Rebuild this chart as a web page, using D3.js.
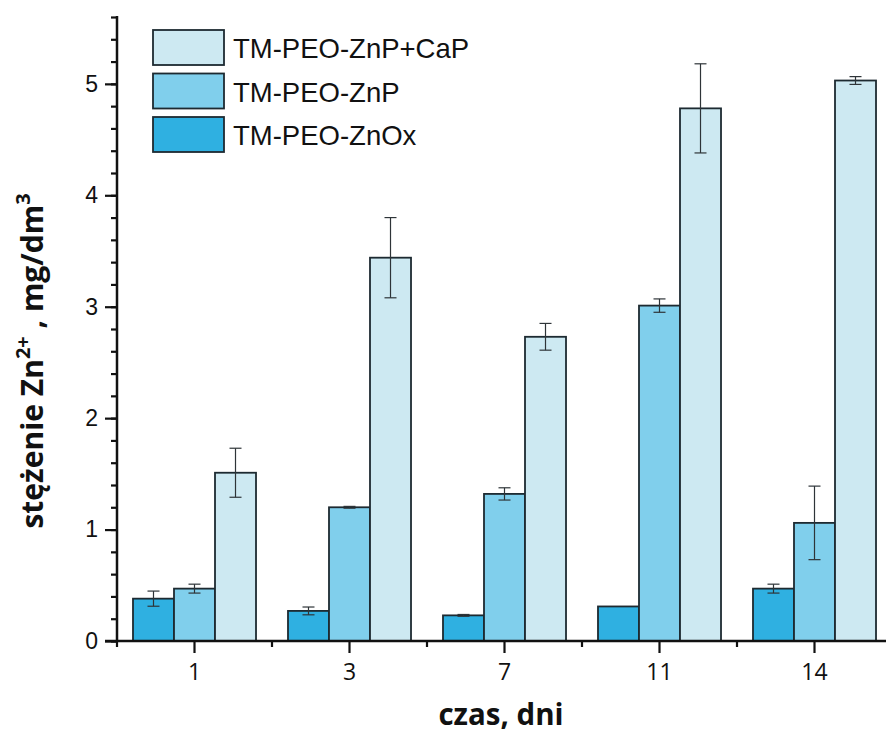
<!DOCTYPE html>
<html><head><meta charset="utf-8">
<script src="https://cdn.jsdelivr.net/npm/d3@7"></script>
<style>html,body{margin:0;padding:0;background:#fff;}svg{display:block;}</style>
</head><body><svg id="chart" width="886" height="744"></svg>
<script>
const days = ["1", "3", "7", "11", "14"];
const seriesNames = ["TM-PEO-ZnOx", "TM-PEO-ZnP", "TM-PEO-ZnP+CaP"];
const znOx = [0.38, 0.27, 0.23, 0.31, 0.47];
const znOxErr = [0.068, 0.035, 0.008, 0, 0.04];
const znP = [0.47, 1.20, 1.32, 3.01, 1.06];
const znPErr = [0.04, 0.008, 0.055, 0.06, 0.33];
const znPCaP = [1.51, 3.44, 2.73, 4.78, 5.03];
const znPCaPErr = [0.22, 0.36, 0.12, 0.40, 0.035];
const colors = ["#2fb0e1", "#80cfec", "#cde9f2"];
const yMajorTicks = [0, 1, 2, 3, 4, 5];

const values = [znOx, znP, znPCaP];
const errs = [znOxErr, znPErr, znPCaPErr];
const data = [];
days.forEach((d, i) => seriesNames.forEach((s, j) => data.push({day: d, series: s, v: values[j][i], e: errs[j][i], c: colors[j]})));

const svg = d3.select("#chart");
const x = d3.scaleBand().domain(days).range([117, 892]).paddingInner(0).paddingOuter(0);
const xs = d3.scaleBand().domain(seriesNames).range([0, x.bandwidth()]).paddingInner(0).paddingOuter(0.39);
const y = d3.scaleLinear().domain([0, 5.6]).range([641, 17]);

const stroke = "#1d2a31";
// bars
svg.append("g").selectAll("rect").data(data).join("rect")
  .attr("x", d => x(d.day) + xs(d.series))
  .attr("y", d => y(d.v))
  .attr("width", xs.bandwidth())
  .attr("height", d => y(0) - y(d.v))
  .attr("fill", d => d.c)
  .attr("stroke", stroke).attr("stroke-width", 1.8);

// error bars
const eg = svg.append("g").attr("stroke", "#2e3438").attr("stroke-width", 1.2).attr("fill", "none");
data.filter(d => d.e > 0).forEach(d => {
  const cx = x(d.day) + xs(d.series) + xs.bandwidth() / 2;
  const t = y(d.v + d.e), b = y(d.v - d.e);
  eg.append("line").attr("x1", cx).attr("x2", cx).attr("y1", t).attr("y2", b);
  eg.append("line").attr("x1", cx - 6).attr("x2", cx + 6).attr("y1", t).attr("y2", t);
  eg.append("line").attr("x1", cx - 6).attr("x2", cx + 6).attr("y1", b).attr("y2", b);
});

// y axis
const yMinor = d3.range(0, 5.61, 0.2).map(v => +v.toFixed(1));
const yAxisG = svg.append("g").attr("transform", "translate(117,0)");
yAxisG.call(d3.axisLeft(y).tickValues(yMinor).tickSize(6).tickFormat(""))
  .call(g => g.select(".domain").remove());
yAxisG.append("g").call(d3.axisLeft(y).tickValues(yMajorTicks).tickSize(12).tickPadding(7).tickFormat(d3.format("d")))
  .call(g => g.select(".domain").remove())
  .call(g => g.selectAll("text").attr("font-family", "'Liberation Sans', Arial, sans-serif").attr("font-size", 23).attr("fill", "#111"));
yAxisG.selectAll("line").attr("stroke", "#111").attr("stroke-width", 2.2);
yAxisG.append("line").attr("x1", 0).attr("x2", 0).attr("y1", y(5.6) - 1).attr("y2", y(0) + 1).attr("stroke", "#111").attr("stroke-width", 2.5);

// x axis
const xAxisG = svg.append("g").attr("transform", "translate(0,641)");
xAxisG.append("g").call(d3.axisBottom(x).tickSize(12).tickPadding(11))
  .call(g => g.select(".domain").remove())
  .call(g => g.selectAll("text").attr("font-family", "'Open Sans', Lato, sans-serif").attr("font-size", 23).attr("fill", "#111"));
const bounds = days.map(d => x(d));
xAxisG.append("g").selectAll("line").data(bounds).join("line")
  .attr("x1", d => d).attr("x2", d => d).attr("y1", 0).attr("y2", 6);
xAxisG.selectAll("line").attr("stroke", "#111").attr("stroke-width", 2.2);
xAxisG.append("line").attr("x1", 105).attr("x2", 892).attr("y1", 0).attr("y2", 0).attr("stroke", "#111").attr("stroke-width", 2.5);

// axis titles
svg.append("text").attr("x", 501).attr("y", 725).attr("text-anchor", "middle")
  .attr("font-family", "'Open Sans', Lato, sans-serif").attr("font-weight", "bold").attr("font-size", 29.5).attr("fill", "#111")
  .text("czas, dni");
const yt = svg.append("text").attr("transform", "translate(43,361) rotate(-90)").attr("text-anchor", "middle")
  .attr("font-family", "'Open Sans', Lato, sans-serif").attr("font-weight", "bold").attr("font-size", 30).attr("fill", "#111");
yt.append("tspan").text("stężenie Zn");
yt.append("tspan").attr("dy", -13).attr("font-size", 20).text("2+");
yt.append("tspan").attr("dy", 13).text(" , mg/dm");
yt.append("tspan").attr("dy", -13).attr("font-size", 20).text("3");

// legend
const legendOrder = [2, 1, 0];
const lg = svg.append("g");
legendOrder.forEach((j, k) => {
  const ty = 30 + k * 43.5;
  lg.append("rect").attr("x", 153).attr("y", ty).attr("width", 71).attr("height", 35)
    .attr("fill", colors[j]).attr("stroke", stroke).attr("stroke-width", 1.8);
  lg.append("text").attr("x", 233).attr("y", ty + 28).text(seriesNames[j])
    .attr("font-family", "'Liberation Sans', Arial, sans-serif").attr("font-size", 27.5).attr("fill", "#111");
});
</script></body></html>
